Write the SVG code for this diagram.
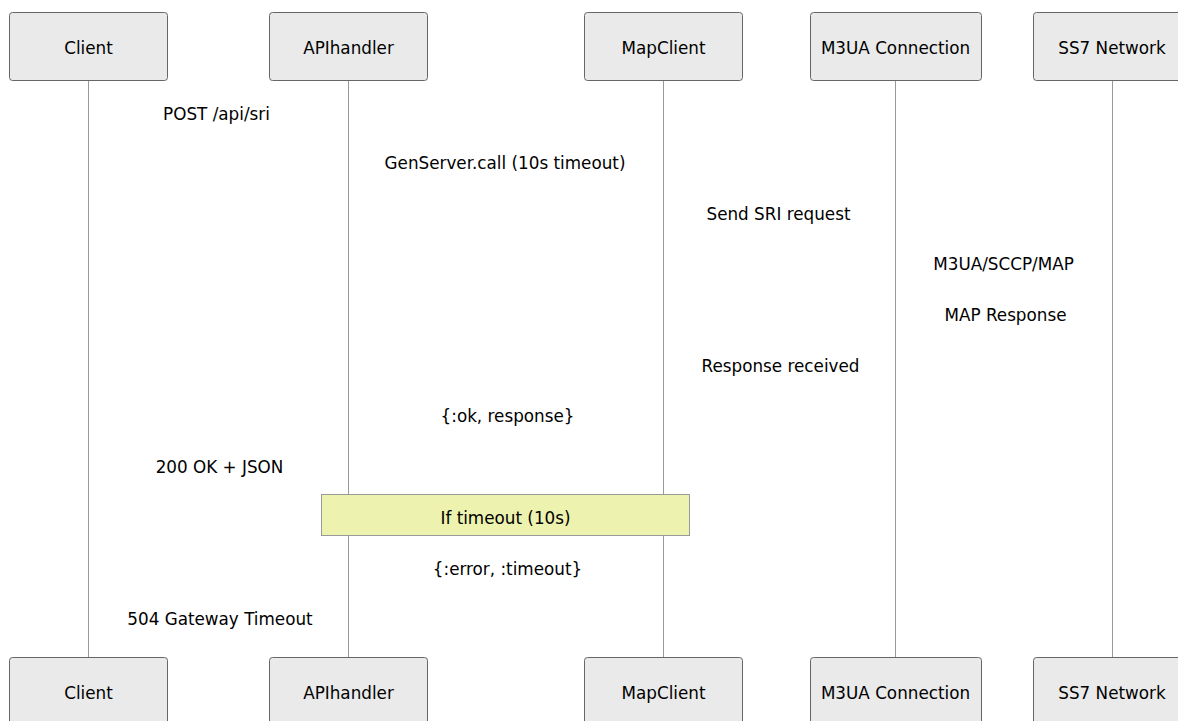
<svg xmlns="http://www.w3.org/2000/svg" width="1178" height="721" viewBox="0 0 1178 721">
<style>
.actor{fill:#eaeaea;stroke:#666;stroke-width:1}
.life{stroke:#999;stroke-width:1}
text{font-family:"DejaVu Sans","Liberation Sans",sans-serif;font-size:16.8px;fill:#000;text-anchor:middle;dominant-baseline:central}
.note{fill:#edf2ae;stroke:#999;stroke-width:1}
</style>
<rect width="1178" height="721" fill="#fff"/>
<g id="lifelines">
<line class="life" x1="88.5" y1="80" x2="88.5" y2="658"/>
<line class="life" x1="348.5" y1="80" x2="348.5" y2="658"/>
<line class="life" x1="663.5" y1="80" x2="663.5" y2="658"/>
<line class="life" x1="895.5" y1="80" x2="895.5" y2="658"/>
<line class="life" x1="1112.5" y1="80" x2="1112.5" y2="658"/>
</g>
<g id="actor-client-top"><rect class="actor" x="9.5" y="12.5" width="158" height="68" rx="3"/><text x="88.5" y="47.5">Client</text></g>
<g id="actor-api-top"><rect class="actor" x="269.5" y="12.5" width="158" height="68" rx="3"/><text x="348.5" y="47.5">APIhandler</text></g>
<g id="actor-map-top"><rect class="actor" x="584.5" y="12.5" width="158" height="68" rx="3"/><text x="663.5" y="47.5">MapClient</text></g>
<g id="actor-m3ua-top"><rect class="actor" x="810.5" y="12.5" width="171" height="68" rx="3"/><text x="895.5" y="47.5">M3UA Connection</text></g>
<g id="actor-ss7-top"><rect class="actor" x="1033.5" y="12.5" width="158" height="68" rx="3"/><text x="1112" y="47.5">SS7 Network</text></g>
<g id="actor-client-bottom"><rect class="actor" x="9.5" y="657.5" width="158" height="68" rx="3"/><text x="88.5" y="692.5">Client</text></g>
<g id="actor-api-bottom"><rect class="actor" x="269.5" y="657.5" width="158" height="68" rx="3"/><text x="348.5" y="692.5">APIhandler</text></g>
<g id="actor-map-bottom"><rect class="actor" x="584.5" y="657.5" width="158" height="68" rx="3"/><text x="663.5" y="692.5">MapClient</text></g>
<g id="actor-m3ua-bottom"><rect class="actor" x="810.5" y="657.5" width="171" height="68" rx="3"/><text x="895.5" y="692.5">M3UA Connection</text></g>
<g id="actor-ss7-bottom"><rect class="actor" x="1033.5" y="657.5" width="158" height="68" rx="3"/><text x="1112" y="692.5">SS7 Network</text></g>
<g id="connectors">
<text x="216.5" y="113.5">POST /api/sri</text>
<text x="505" y="162.5">GenServer.call (10s timeout)</text>
<text x="778.5" y="213.5">Send SRI request</text>
<text x="1003.5" y="263.5">M3UA/SCCP/MAP</text>
<text x="1005.5" y="314.5">MAP Response</text>
<text x="780.5" y="365.5">Response received</text>
<text x="507.5" y="415.5">{:ok, response}</text>
<text x="219.5" y="466.5">200 OK + JSON</text>
<text x="507.5" y="568.5">{:error, :timeout}</text>
<text x="220" y="618.5">504 Gateway Timeout</text>
</g>
<g id="note-timeout"><rect class="note" x="321.5" y="494.5" width="368" height="41"/><text x="505.5" y="517.5">If timeout (10s)</text></g>
</svg>
